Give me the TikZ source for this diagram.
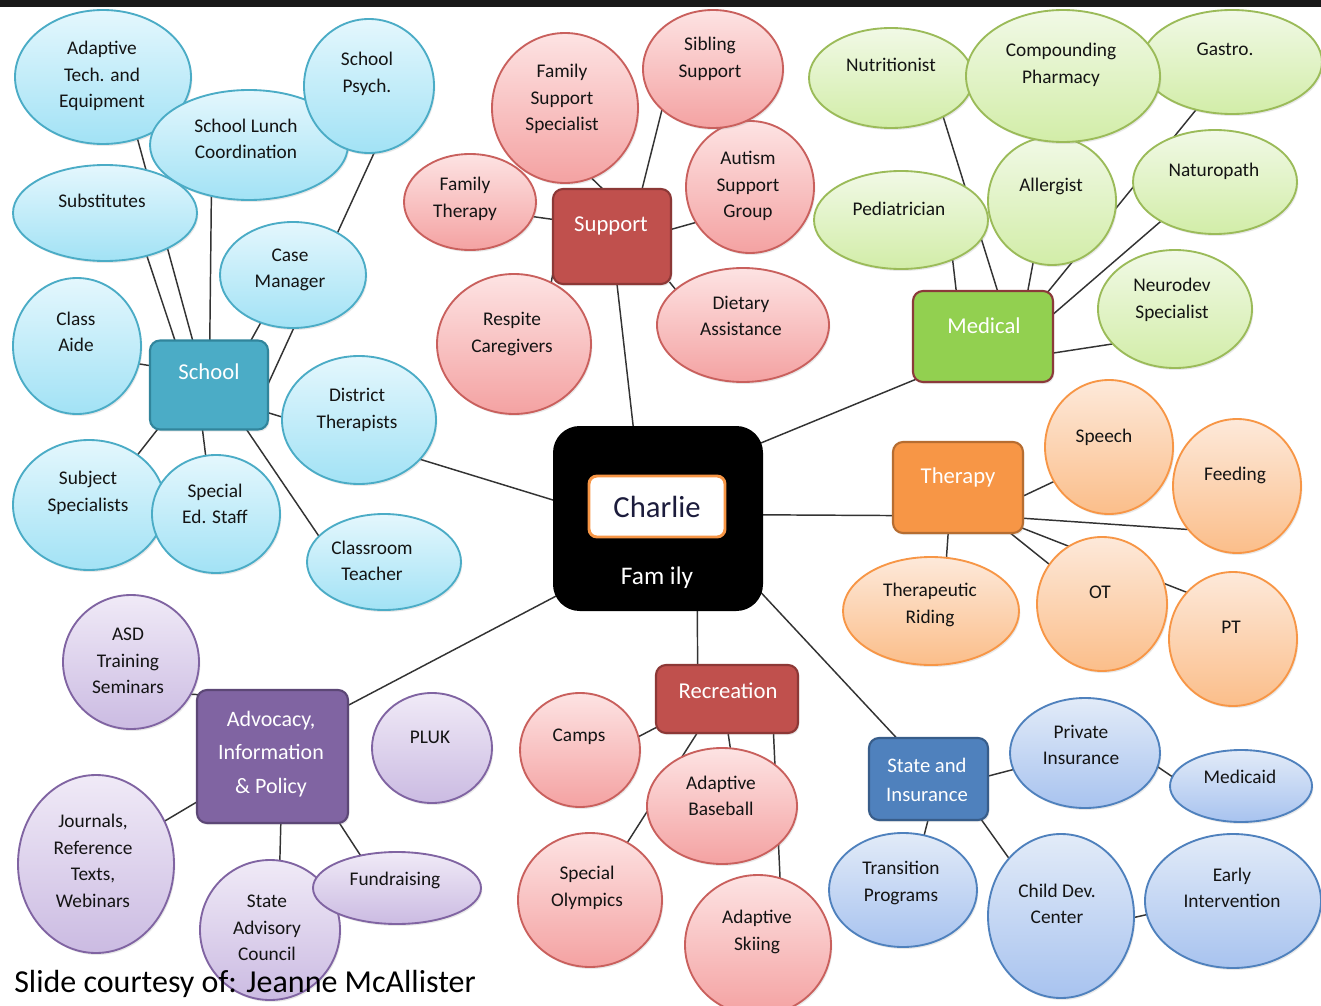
\documentclass[tikz,border=0pt]{standalone}
\usepackage{fontspec}
\setmainfont{Carlito}
\usetikzlibrary{shapes.geometric,shadows,calc}
\pgfdeclarelayer{bg}\pgfdeclarelayer{lines}
\pgfsetlayers{bg,lines,main}
\definecolor{cyT}{HTML}{E4F7FD}\definecolor{cyB}{HTML}{A2E2F5}\definecolor{cyD}{HTML}{4BACC6}
\definecolor{rdT}{HTML}{FDE3E3}\definecolor{rdB}{HTML}{F4A2A2}\definecolor{rdD}{HTML}{C9605D}
\definecolor{grT}{HTML}{F1F9E6}\definecolor{grB}{HTML}{D2EDA8}\definecolor{grD}{HTML}{9BBB59}
\definecolor{orT}{HTML}{FDE9DA}\definecolor{orB}{HTML}{FBBE8A}\definecolor{orD}{HTML}{F79646}
\definecolor{puT}{HTML}{F0EAF7}\definecolor{puB}{HTML}{CBBBE2}\definecolor{puD}{HTML}{8064A2}
\definecolor{blT}{HTML}{E2EBF8}\definecolor{blB}{HTML}{A8C3EF}\definecolor{blD}{HTML}{4F81BD}
\definecolor{schF}{HTML}{4BACC6}\definecolor{schD}{HTML}{31859C}
\definecolor{supF}{HTML}{C0504D}\definecolor{supD}{HTML}{8C3836}
\definecolor{medF}{HTML}{92D050}\definecolor{medD}{HTML}{8B3A3A}
\definecolor{thF}{HTML}{F79646}\definecolor{thD}{HTML}{B66D31}
\definecolor{advF}{HTML}{8064A2}\definecolor{advD}{HTML}{5C4776}
\definecolor{stF}{HTML}{4F81BD}\definecolor{stD}{HTML}{385D8A}
\definecolor{inkC}{HTML}{1C1C3C}
\tikzset{
  ell/.style={ellipse, inner sep=0pt, line width=1.4pt,
    drop shadow={opacity=0.18, shadow xshift=1pt, shadow yshift=-1.5pt}},
  cy/.style={ell, draw=cyD, top color=cyT, bottom color=cyB},
  rd/.style={ell, draw=rdD, top color=rdT, bottom color=rdB},
  gr/.style={ell, draw=grD, top color=grT, bottom color=grB},
  orr/.style={ell, draw=orD, top color=orT, bottom color=orB},
  pu/.style={ell, draw=puD, top color=puT, bottom color=puB},
  bl/.style={ell, draw=blD, top color=blT, bottom color=blB},
  etxt/.style={align=center, text=black!92, font=\fontsize{14.5}{20}\selectfont, inner sep=0pt},
  box/.style={rectangle, rounded corners=7.5pt, line width=1.6pt, inner sep=0pt,
    drop shadow={opacity=0.18, shadow xshift=1pt, shadow yshift=-1.5pt}},
  btxt/.style={align=center, text=white, font=\fontsize{17}{25}\selectfont, inner sep=0pt},
  link/.style={draw=black!80, line width=1.1pt, shorten >=-3pt, shorten <=-3pt},
}
\newcommand\bub[7]{\node[#2, minimum width={1.5pt*#4}, minimum height={1.5pt*#5}] (#1) at (#3) {};
  \node[etxt] at (#6) {#7};}
\newcommand\bx[5]{\node[box, #2, minimum width={0.75pt*#4}, minimum height={0.75pt*#5}] (#1) at (#3) {};}
\begin{document}
\begin{tikzpicture}[x=0.75pt,y=-0.75pt]
\useasboundingbox (0,0) rectangle (1321,1006);
\begin{pgfonlayer}{bg}
  \fill[white] (0,0) rectangle (1321,1006);
  \fill[black!90] (0,0) rectangle (1321,7);
\end{pgfonlayer}
% central box
\node[rectangle, rounded corners=20pt, fill=black, minimum width={0.75pt*210}, minimum height={0.75pt*185}, inner sep=0pt] (family) at (658,518.5) {};
\node[rectangle, rounded corners=6pt, fill=white, draw=orD, line width=2.2pt, minimum width={0.75pt*136}, minimum height={0.75pt*61}, inner sep=0pt,
  font=\fontsize{23}{26}\selectfont, text=inkC] (charlie) at (657,506.5) {Charlie};
\node[text=white, font=\fontsize{19}{22}\selectfont, inner sep=0pt] (famtxt) at (657,578) {Fam ily};
% category boxes
\bx{school}{fill=schF, draw=schD}{209,385}{118}{89}
\node[btxt] at (209,372) {School};
\bx{support}{fill=supF, draw=supD}{612,236.5}{118}{95}
\node[btxt] at (611,226) {Support};
\bx{medical}{fill=medF, draw=medD}{983,336.5}{140}{91}
\node[btxt] at (984,326) {Medical};
\bx{therapy}{fill=thF, draw=thD}{958,487.5}{130}{91}
\node[btxt] at (958,477) {Therapy};
\bx{recreation}{fill=supF, draw=supD}{727,699}{142}{68}
\node[btxt] at (728,691) {Recreation};
\bx{advocacy}{fill=advF, draw=advD}{272.5,756.5}{151}{133}
\node[btxt, font=\fontsize{16.5}{25}\selectfont] at (271,754) {Advocacy,\\Information\\\& Policy};
\bx{state}{fill=stF, draw=stD}{928.5,779}{119}{82}
\node[btxt, font=\fontsize{15.5}{22}\selectfont] at (927,780) {State and\\Insurance};
% school cluster
\bub{adtech}{cy}{103,77}{88}{67}{102,76}{Adaptive\\Tech. and\\Equipment}
\bub{subst}{cy}{105,213}{92}{48}{102,201}{Substitutes}
\bub{lunch}{cy}{249,145}{99}{55}{246,139}{School Lunch\\Coordination}
\bub{psych}{cy}{369,86}{65}{67}{367,74}{School\\Psych.}
\bub{casem}{cy}{293,275}{73}{53}{290,270}{Case\\Manager}
\bub{aide}{cy}{77,346}{64}{68}{76,332}{Class\\Aide}
\bub{dist}{cy}{359,420}{77}{64}{357,410}{District\\Therapists}
\bub{subj}{cy}{89,505}{76}{65}{88,493}{Subject\\Specialists}
\bub{sped}{cy}{216,514}{64}{59}{215,504}{Special\\Ed. Staff}
\bub{classr}{cy}{384,562}{77}{48}{372,561}{Classroom\\Teacher}
% support cluster
\bub{fss}{rd}{565,108}{73}{75}{562,99}{Family\\Support\\Specialist}
\bub{autism}{rd}{750,187}{64}{66}{748,186}{Autism\\Support\\Group}
\bub{sib}{rd}{713,69}{70}{59}{710,59}{Sibling\\Support}
\bub{famth}{rd}{470,202}{66}{48}{465,199}{Family\\Therapy}
\bub{respite}{rd}{514,344}{77}{70}{512,334}{Respite\\Caregivers}
\bub{diet}{rd}{743,325}{86}{57}{741,316}{Dietary\\Assistance}
% medical cluster
\bub{nutr}{gr}{891,78}{82}{50}{891,65}{Nutritionist}
\bub{gastro}{gr}{1232,62}{90}{52}{1225,49}{Gastro.}
\bub{ped}{gr}{901,220}{87}{49}{899,209}{Pediatrician}
\bub{allerg}{gr}{1052,201}{64}{64}{1051,186}{Allergist}
\bub{compd}{gr}{1063,76}{97}{66}{1061,65}{Compounding\\Pharmacy}
\bub{naturo}{gr}{1215,182}{82}{52}{1214,171}{Naturopath}
\bub{neuro}{gr}{1175,309}{77}{59}{1172,300}{Neurodev\\Specialist}
% therapy cluster
\bub{speech}{orr}{1109,447}{64}{67}{1104,437}{Speech}
\bub{feed}{orr}{1237,486}{64}{67}{1235,475}{Feeding}
\bub{rid}{orr}{931,611}{88}{54}{930,605}{Therapeutic\\Riding}
\bub{ot}{orr}{1102,604}{65}{67}{1100,592}{OT}
\bub{pt}{orr}{1233,639}{64}{67}{1231,627}{PT}
% advocacy cluster
\bub{asd}{pu}{131,662}{68}{67}{128,661}{ASD\\Training\\Seminars}
\bub{pluk}{pu}{432,748}{60}{55}{430,737}{PLUK}
\bub{journals}{pu}{96,864}{78}{89}{93,861}{Journals,\\Reference\\Texts,\\Webinars}
\bub{stadv}{pu}{270,930}{70}{70}{267,928}{State\\Advisory\\Council}
\bub{fund}{pu}{397,888}{84}{36}{395,880}{Fundraising}
% recreation cluster
\bub{camps}{rd}{580,750}{60}{57}{579,737}{Camps}
\bub{baseball}{rd}{722,806}{75}{58}{721,796}{Adaptive\\Baseball}
\bub{specoly}{rd}{590,900}{72}{67}{587,888}{Special\\Olympics}
\bub{skiing}{rd}{758,945}{73}{70}{757,932}{Adaptive\\Skiing}
% state cluster
\bub{priv}{bl}{1085,753}{75}{55}{1081,745}{Private\\Insurance}
\bub{medicaid}{bl}{1241,786}{71}{36}{1240,777}{Medicaid}
\bub{trans}{bl}{903,890}{74}{57}{901,883}{Transition\\Programs}
\bub{childdev}{bl}{1061,916}{73}{82}{1057,904}{Child Dev.\\Center}
\bub{early}{bl}{1233,901}{88}{67}{1232,888}{Early\\Intervention}
% connectors
\begin{pgfonlayer}{lines}
  \draw[link] (adtech.-61) -- (school.110);
  \draw[link] (subst.-46) -- (school.127);
  \draw[link] (lunch.-126) -- (school.89);
  \draw[link] (psych.-86) -- (school.3);
  \draw[link] (casem.-124) -- (school.47);
  \draw[link] (aide.-16) -- (school.162);
  \draw[link] (subj.46) -- (school.-139);
  \draw[link] (sped.100) -- (school.-98);
  \draw[link] (classr.158) -- (school.-50);
  \draw[link] (school.-25) -- (family.170);
  \draw[link] (fss.-69) -- (support.102);
  \draw[link] (sib.-141) -- (support.58);
  \draw[link] (famth.-13) -- (support.164);
  \draw[link] (autism.-147) -- (support.7);
  \draw[link] (respite.59) -- (support.-145);
  \draw[link] (diet.152) -- (support.-39);
  \draw[link] (support.-84) -- (family.105);
  \draw[link] (nutr.-37) -- (medical.73);
  \draw[link] (ped.-38) -- (medical.120);
  \draw[link] (allerg.-107) -- (medical.46);
  \draw[link] (gastro.-127) -- (medical.35);
  \draw[link] (naturo.-144) -- (medical.18);
  \draw[link] (neuro.-151) -- (medical.-13);
  \draw[link] (medical.-148) -- (family.36);
  \draw[link] (family.2) -- (therapy.-157);
  \draw[link] (speech.-148) -- (therapy.-7);
  \draw[link] (feed.-139) -- (therapy.-25);
  \draw[link] (ot.143) -- (therapy.-41);
  \draw[link] (pt.135) -- (therapy.-32);
  \draw[link] (rid.74) -- (therapy.-102);
  \draw[link] (family.-36) -- (state.128);
  \draw[link] (priv.-167) -- (state.3);
  \draw[link] (priv.-11) -- (medicaid.172);
  \draw[link] (trans.69) -- (state.-91);
  \draw[link] (childdev.132) -- (state.-38);
  \draw[link] (childdev.-1) -- (early.-171);
  \draw[link] (family.-67) -- (recreation.130);
  \draw[link] (camps.13) -- (recreation.-158);
  \draw[link] (baseball.82) -- (recreation.-88);
  \draw[link] (specoly.57) -- (recreation.-131);
  \draw[link] (skiing.72) -- (recreation.-37);
  \draw[link] (family.-143) -- (advocacy.34);
  \draw[link] (asd.-28) -- (advocacy.141);
  \draw[link] (journals.32) -- (advocacy.-149);
  \draw[link] (stadv.82) -- (advocacy.-83);
  \draw[link] (fund.138) -- (advocacy.-45);
\end{pgfonlayer}
\node[anchor=base west, inner sep=0pt, font=\fontsize{24}{28}\selectfont] (credit) at (14,992) {Slide courtesy of: Jeanne McAllister};
\end{tikzpicture}
\end{document}
